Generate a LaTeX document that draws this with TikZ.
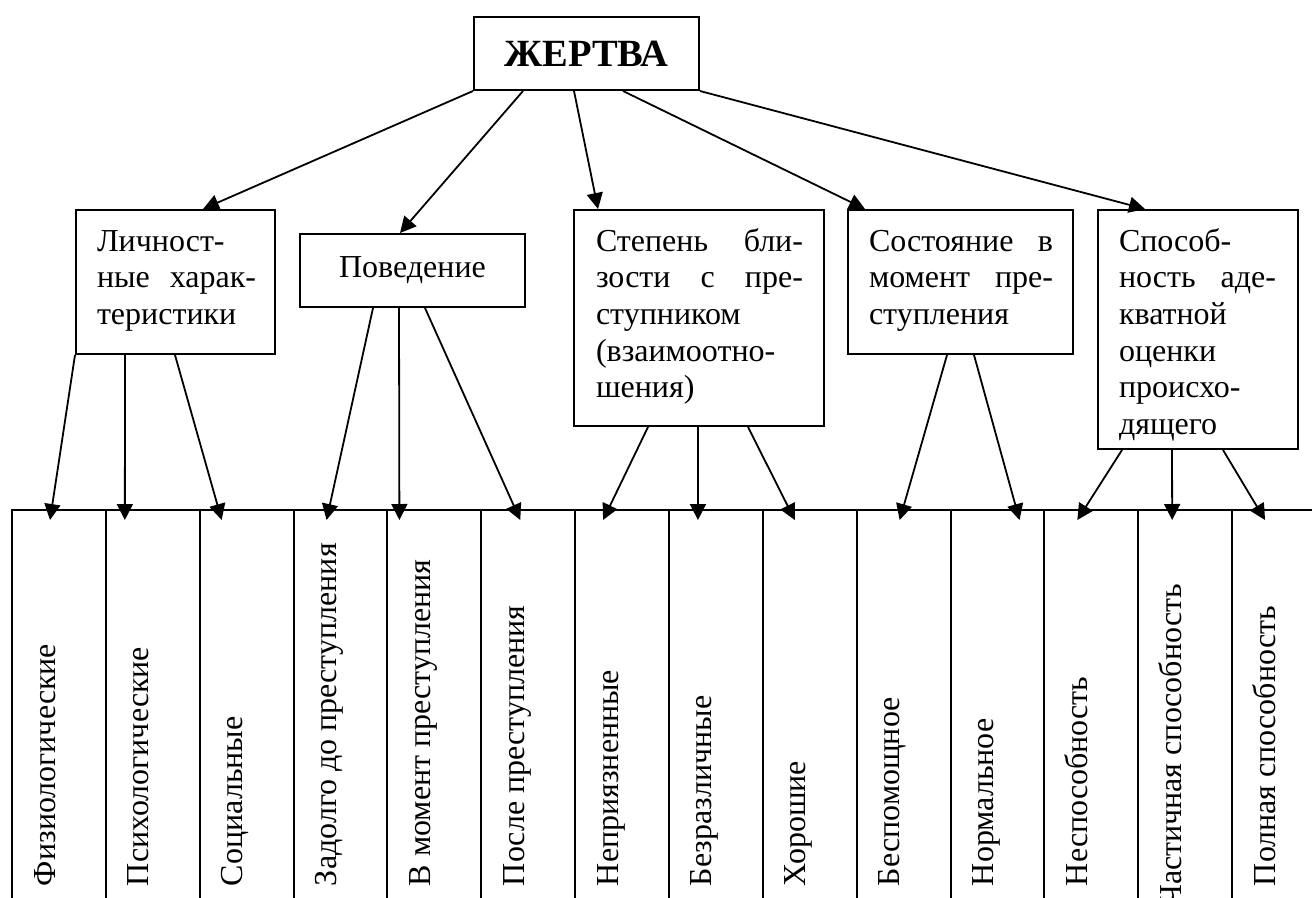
\documentclass[tikz,border=0pt]{standalone}
\usepackage{fontspec}
\setmainfont{Liberation Serif}
\usetikzlibrary{arrows.meta,calc}
\begin{document}
\begin{tikzpicture}[x=1pt,y=-1pt,line width=2pt,
  box/.style={draw,rectangle,inner sep=0pt,anchor=north west},
  txt/.style={inner sep=0pt,anchor=north west,align=left,
    font=\fontsize{32}{36.7}\selectfont\hyphenpenalty10000\exhyphenpenalty10000},
  arr/.style={-{Triangle[length=16pt,width=16pt]},line width=1.8pt},
  cell/.style={draw,rectangle,inner sep=0pt,anchor=north west,minimum width=93.85pt,minimum height=420pt},
  vt/.style={rotate=90,anchor=base west,inner sep=0pt,font=\fontsize{32}{36.7}\selectfont}]
\clip (0,0) rectangle (1312,897);
% top
\node[box,minimum width=225pt,minimum height=73pt,font=\bfseries\fontsize{38.5}{40}\selectfont] (top) at (473,16) {ЖЕРТВА};
% second level boxes
\node[box,minimum width=199pt,minimum height=144pt] (L) at (75,209) {};
\node[txt,text width=159pt] (Lt) at ($(L.north west)+(21,11)$) {\rule{0pt}{30pt}Личност-\\ные\hfill харак-\\теристики};
\node[box,minimum width=225pt,minimum height=73pt,font=\fontsize{32}{36.7}\selectfont] (P) at (299,233) {Поведение};
\node[box,minimum width=250pt,minimum height=216pt] (S) at (573,209) {};
\node[txt,text width=207pt] (St) at ($(S.north west)+(22,11)$) {\rule{0pt}{30pt}Степень\hfill бли-\\зости\hfill с\hfill пре-\\ступником\\(взаимоотно-\\шения)};
\node[box,minimum width=225pt,minimum height=144pt] (C) at (847,209) {};
\node[txt,text width=184pt] (Ct) at ($(C.north west)+(21,11)$) {\rule{0pt}{30pt}Состояние\hfill в\\момент\hfill пре-\\ступления};
\node[box,minimum width=200pt,minimum height=239pt] (A) at (1097,209) {};
\node[txt,text width=157pt] (At) at ($(A.north west)+(21,11)$) {\rule{0pt}{30pt}Способ-\\ность\hfill аде-\\кватной\\оценки\\происхо-\\дящего};
% cells
\foreach \i in {1,...,14} {
  \node[cell] (c\i) at ({11+93.85*(\i-1)},509) {};
}
\node[vt] (t1) at ($(c1.north west)+(44,378)$) {Физиологические};
\node[vt] (t2) at ($(c2.north west)+(44,378)$) {Психологические};
\node[vt] (t3) at ($(c3.north west)+(44,378)$) {Социальные};
\node[vt] (t4) at ($(c4.north west)+(44,378)$) {Задолго до преступления};
\node[vt] (t5) at ($(c5.north west)+(44,378)$) {В момент преступления};
\node[vt] (t6) at ($(c6.north west)+(44,378)$) {После преступления};
\node[vt] (t7) at ($(c7.north west)+(44,378)$) {Неприязненные};
\node[vt] (t8) at ($(c8.north west)+(44,378)$) {Безразличные};
\node[vt] (t9) at ($(c9.north west)+(44,378)$) {Хорошие};
\node[vt] (t10) at ($(c10.north west)+(44,378)$) {Беспомощное};
\node[vt] (t11) at ($(c11.north west)+(44,378)$) {Нормальное};
\node[vt] (t12) at ($(c12.north west)+(44,378)$) {Неспособность};
\node[vt,anchor=base east] (t13) at ($(c13.north west)+(44,74)$) {Частичная способность};
\node[vt] (t14) at ($(c14.north west)+(44,378)$) {Полная способность};
% arrows from top
\draw[arr] (top.south west) -- ($(L.north west)+(128,0)$);
\draw[arr] ($(top.south west)+(50,0)$) -- ($(P.north west)+(101,0)$);
\draw[arr] ($(top.south west)+(101,0)$) -- ($(S.north west)+(25,0)$);
\draw[arr] ($(top.south west)+(150,0)$) -- ($(C.north west)+(18,0)$);
\draw[arr] (top.south east) -- ($(A.north west)+(48,0)$);
% arrows to cells
\draw[arr] (L.south west) -- ($(c1.north west)+(39,11)$);
\draw[arr] ($(L.south west)+(50,0)$) -- ($(c2.north west)+(20,11)$);
\draw[arr] ($(L.south west)+(100,0)$) -- ($(c3.north west)+(23,11)$);
\draw[arr] ($(P.south west)+(74,0)$) -- ($(c4.north west)+(34,11)$);
\draw[arr] ($(P.south west)+(100,0)$) -- ($(c5.north west)+(13,11)$);
\draw[arr] ($(P.south west)+(126,0)$) -- ($(c6.north west)+(40,11)$);
\draw[arr] ($(S.south west)+(75,0)$) -- ($(c7.north west)+(29,11)$);
\draw[arr] ($(S.south west)+(125,0)$) -- ($(c8.north west)+(30,11)$);
\draw[arr] ($(S.south west)+(175,0)$) -- ($(c9.north west)+(33,11)$);
\draw[arr] ($(C.south west)+(100,0)$) -- ($(c10.north west)+(44,11)$);
\draw[arr] ($(C.south west)+(127,0)$) -- ($(c11.north west)+(70,11)$);
\draw[arr] ($(A.south west)+(25,0)$) -- ($(c12.north west)+(34,11)$);
\draw[arr] ($(A.south west)+(75,0)$) -- ($(c13.north west)+(35,11)$);
\draw[arr] ($(A.south west)+(126,0)$) -- ($(c14.north west)+(34,11)$);
\end{tikzpicture}
\end{document}
